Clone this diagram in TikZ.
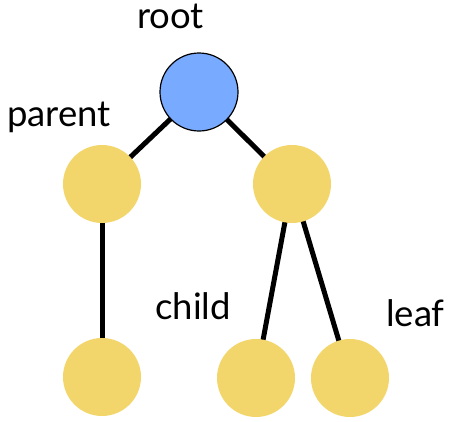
\documentclass[tikz,border=0pt]{standalone}
\usepackage{fontspec}
\setmainfont{Lato}
\usetikzlibrary{backgrounds}
\definecolor{rootblue}{HTML}{78ABFF}
\definecolor{nodeyellow}{HTML}{F2D66C}
\tikzset{
  treenode/.style={circle, minimum size=78pt, inner sep=0pt, fill=nodeyellow},
  rootnode/.style={treenode, fill=rootblue, draw=black, line width=1.2pt},
  edge/.style={line width=5pt, black},
  lbl/.style={font=\fontsize{36.5}{36.5}\selectfont, inner sep=0pt, anchor=base west}
}
\begin{document}
\begin{tikzpicture}[x=1pt,y=-1pt]
\useasboundingbox (0,0) rectangle (450,421);
\node[rootnode] (root) at (199,92) {};
\node[treenode] (p) at (102,184) {};
\node[treenode] (q) at (292,184) {};
\node[treenode] (c1) at (102,377) {};
\node[treenode] (c2) at (256,378) {};
\node[treenode] (c3) at (350,378) {};
\begin{scope}[on background layer]
\draw[edge] (root.center) -- (p.center);
\draw[edge] (root.center) -- (q.center);
\draw[edge] (p.center) -- (c1.center);
\draw[edge] (q.center) -- (c2.center);
\draw[edge] (q.center) -- (c3.center);
\end{scope}
\node[lbl] (lroot) at (137,28) {root};
\node[lbl] (lparent) at (7,126) {parent};
\node[lbl] (lchild) at (155,319) {child};
\node[lbl] (lleaf) at (386,326) {leaf};
\end{tikzpicture}
\end{document}
